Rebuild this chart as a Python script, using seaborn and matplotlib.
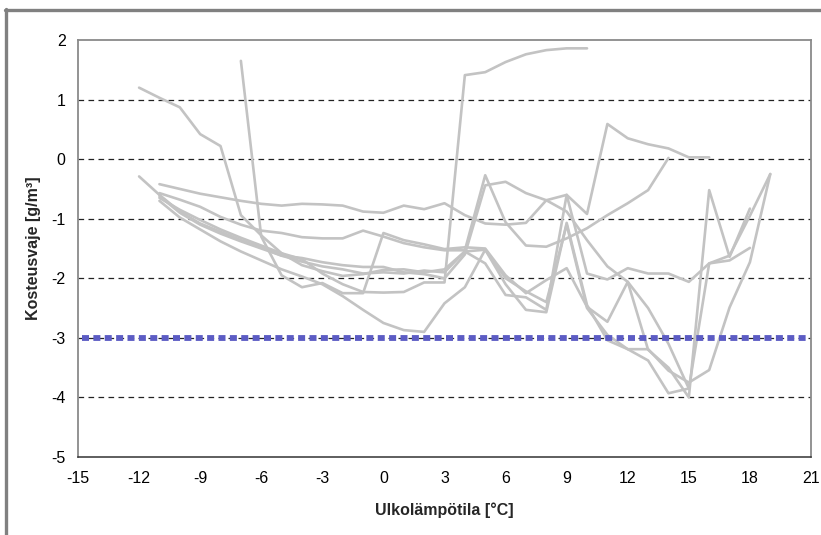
import matplotlib
matplotlib.use("Agg")
import matplotlib.pyplot as plt
import matplotlib.lines as mlines
import seaborn as sns
import pandas as pd

# ---- data (outdoor temperature, moisture excess g/m3) ----
x_a = list(range(-11, 17))
y_a = [-0.42, -0.50, -0.58, -0.64, -0.70, -0.75, -0.78, -0.75, -0.76, -0.78, -0.88, -0.90,
       -0.78, -0.84, -0.74, -0.94, -1.08, -1.10, -1.07, -0.69, -0.60, -0.92, 0.59, 0.35,
       0.25, 0.18, 0.03, 0.03]

x_b = list(range(-11, 15))
y_b = [-0.57, -0.68, -0.80, -0.97, -1.10, -1.20, -1.24, -1.31, -1.33, -1.33, -1.20, -1.30,
       -1.41, -1.48, -1.53, -1.53, -0.27, -1.06, -1.45, -1.47, -1.33, -1.16, -0.94, -0.74,
       -0.52, 0.02]

x_c = list(range(-11, 11))
y_c = [-0.65, -0.85, -1.02, -1.18, -1.32, -1.45, -1.58, -1.68, -1.92, -2.10, -2.23, -2.24,
       -2.23, -2.07, -2.07, 1.41, 1.46, 1.63, 1.76, 1.83, 1.86, 1.86]

x_d = list(range(-12, 20))
y_d = [-0.29, -0.60, -0.88, -1.08, -1.22, -1.36, -1.48, -1.62, -1.66, -1.73, -1.78, -1.81,
       -1.81, -1.90, -1.93, -2.00, -1.60, -0.44, -0.38, -0.57, -0.69, -0.88, -1.36, -1.80,
       -2.06, -2.50, -3.10, -3.85, -1.75, -1.62, -0.95, -0.25]

x_e = list(range(-12, 19))
y_e = [1.20, 1.03, 0.87, 0.42, 0.22, -0.94, -1.28, -1.58, -1.78, -1.88, -1.96, -1.93,
       -1.86, -1.85, -1.90, -1.85, -1.55, -1.75, -2.28, -2.32, -2.53, -0.60, -1.92, -2.02,
       -1.83, -1.92, -1.92, -2.06, -1.75, -1.70, -1.49]

x_f = list(range(-7, 19))
y_f = [1.65, -1.30, -1.95, -2.15, -2.08, -2.25, -2.25, -1.24, -1.36, -1.43, -1.51, -1.48,
       -1.50, -1.95, -2.25, -2.03, -1.83, -2.48, -2.73, -2.06, -3.20, -3.50, -4.00, -0.52,
       -1.64, -0.83]

x_g = list(range(-11, 20))
y_g = [-0.70, -0.98, -1.18, -1.38, -1.55, -1.70, -1.85, -1.97, -2.10, -2.30, -2.53, -2.75,
       -2.87, -2.90, -2.42, -2.15, -1.52, -2.10, -2.53, -2.57, -1.07, -2.45, -3.04, -3.19,
       -3.19, -3.55, -3.75, -3.54, -2.49, -1.73, -0.25]

x_h = list(range(-11, 16))
y_h = [-0.62, -0.90, -1.10, -1.25, -1.38, -1.50, -1.62, -1.72, -1.80, -1.85, -1.92, -1.90,
       -1.92, -1.87, -1.90, -1.55, -1.52, -2.00, -2.22, -2.40, -1.10, -2.50, -2.95, -3.19,
       -3.38, -3.93, -3.85]

limit_x = [-14.8, 20.9]
limit_y = [-3, -3]

x_ticks = [-15, -12, -9, -6, -3, 0, 3, 6, 9, 12, 15, 18, 21]
y_ticks = [2, 1, 0, -1, -2, -3, -4, -5]

series = [(x_a, y_a), (x_b, y_b), (x_c, y_c), (x_d, y_d),
          (x_e, y_e), (x_f, y_f), (x_g, y_g), (x_h, y_h)]

# ---- figure ----
sns.set_style("white")
plt.rcParams["font.family"] = ["Liberation Sans", "DejaVu Sans"]

fig = plt.figure(figsize=(8.21, 5.35), dpi=100)
ax = fig.add_axes([78 / 821, 1 - 457 / 535, (811 - 78) / 821, (457 - 40) / 535])

# grid lines
for yv in y_ticks[1:-1]:
    ax.axhline(yv, color="#222222", lw=0.9, ls=(0, (4.5, 3.5)), zorder=1)

frames = []
for i, (xs, ys) in enumerate(series):
    frames.append(pd.DataFrame({"t": xs, "v": ys, "s": f"s{i}"}))
df = pd.concat(frames, ignore_index=True)
sns.lineplot(data=df, x="t", y="v", units="s", estimator=None, color="#c3c3c3",
             linewidth=1.9, ax=ax, zorder=3, sort=False)

lim_df = pd.DataFrame({"t": limit_x, "v": limit_y})
sns.lineplot(data=lim_df, x="t", y="v", color="#5c5cc4", linewidth=4.2, ax=ax, zorder=4,
             dashes=False)
ln = ax.get_lines()[-1]
ln.set_linestyle((0, (1.2, 0.75)))
ln.set_dash_capstyle("butt")

ax.set_xlim(-15, 21)
ax.set_ylim(-5, 2)
ax.set_xticks(x_ticks)
ax.set_yticks(y_ticks)
ax.set_xticklabels([str(v) for v in x_ticks])
ax.set_yticklabels([str(v) for v in y_ticks])
ax.tick_params(axis="both", direction="out", length=5, width=1, color="#333333",
               labelsize=11.5, labelcolor="black", pad=5)
ax.tick_params(axis="y", pad=4)

for side in ["left", "top", "right"]:
    ax.spines[side].set_color("#8a8a8a")
    ax.spines[side].set_linewidth(1.3)
ax.spines["bottom"].set_color("#333333")
ax.spines["bottom"].set_linewidth(1.1)

ax.set_xlabel("Ulkolämpötila [°C]", fontsize=11.5, fontweight="bold", labelpad=12)
ax.set_ylabel("Kosteusvaje [g/m³]", fontsize=11.5, fontweight="bold", labelpad=7)

# outer frame (gray border of the chart area)
fig.add_artist(mlines.Line2D([5 / 821, 1.0], [1 - 9.5 / 535, 1 - 9.5 / 535],
                             transform=fig.transFigure, color="#808080", lw=2.4))
fig.add_artist(mlines.Line2D([6 / 821, 6 / 821], [0.0, 1 - 8.5 / 535],
                             transform=fig.transFigure, color="#808080", lw=2.4))

fig.savefig("out.png", dpi=100)
